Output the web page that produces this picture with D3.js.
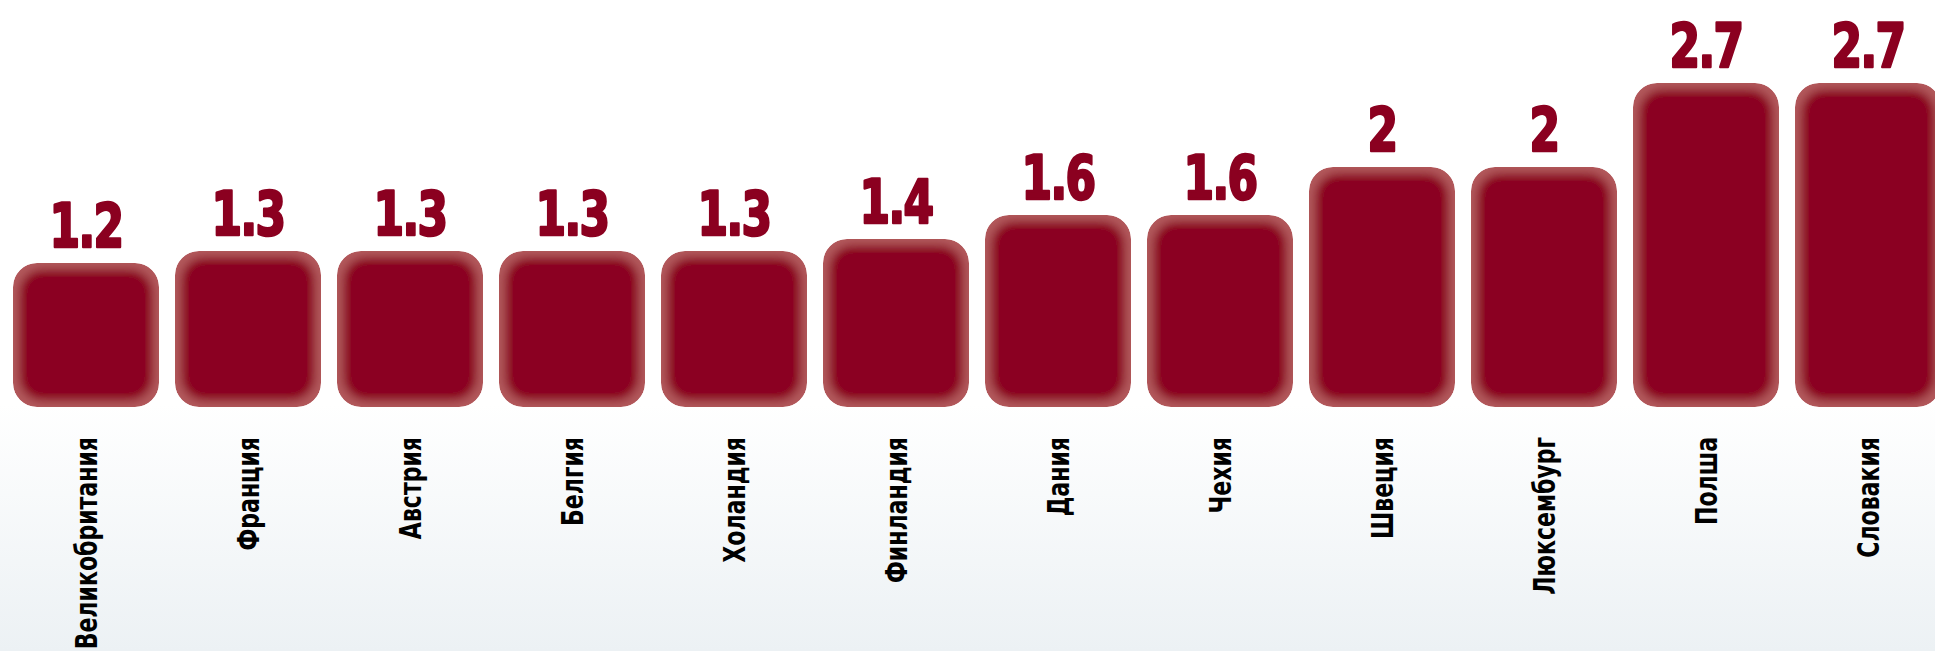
<!DOCTYPE html>
<html>
<head>
<meta charset="utf-8">
<script src="https://cdn.jsdelivr.net/npm/d3@7"></script>
<style>
  body { margin: 0; background: #fff; }
  svg { display: block; }
</style>
</head>
<body>
<svg id="chart"></svg>
<script>
var countries = ["Великобритания", "Франция", "Австрия", "Белгия", "Холандия", "Финландия",
                 "Дания", "Чехия", "Швеция", "Люксембург", "Полша", "Словакия"];
var values = [1.2, 1.3, 1.3, 1.3, 1.3, 1.4, 1.6, 1.6, 2, 2, 2.7, 2.7];
var valueLabels = ["1.2", "1.3", "1.3", "1.3", "1.3", "1.4", "1.6", "1.6", "2", "2", "2.7", "2.7"];

var svgWidth = 1935, svgHeight = 651;
var barBottom = 407, barTopMax = 83; // top of the tallest bar

var svg = d3.select("#chart")
    .attr("width", svgWidth)
    .attr("height", svgHeight);

var defs = svg.append("defs");

// background: white, fading to a pale blue-grey at the bottom
var bg = defs.append("linearGradient")
    .attr("id", "bg")
    .attr("x1", 0).attr("y1", 0).attr("x2", 0).attr("y2", 1);
bg.append("stop").attr("offset", "0.62").attr("stop-color", "#ffffff");
bg.append("stop").attr("offset", "1").attr("stop-color", "#ecf1f4");

svg.append("rect")
    .attr("width", svgWidth)
    .attr("height", svgHeight)
    .attr("fill", "url(#bg)");

// soft inner glow on the bars: lighter rim, dark core
var f = defs.append("filter")
    .attr("id", "glow")
    .attr("x", "-5%").attr("y", "-5%").attr("width", "110%").attr("height", "110%");
f.append("feMorphology").attr("in", "SourceAlpha").attr("operator", "erode").attr("radius", 6).attr("result", "er");
f.append("feGaussianBlur").attr("in", "er").attr("stdDeviation", 5).attr("result", "bl");
f.append("feFlood").attr("flood-color", "#8b0020").attr("result", "fl");
f.append("feComposite").attr("in", "fl").attr("in2", "bl").attr("operator", "in").attr("result", "inner");
var m = f.append("feMerge").attr("result", "merged");
m.append("feMergeNode").attr("in", "SourceGraphic");
m.append("feMergeNode").attr("in", "inner");
f.append("feComposite").attr("in", "merged").attr("in2", "SourceAlpha").attr("operator", "in");

var step = 162, gap = 16;
var xScale = d3.scaleBand()
    .domain(countries)
    .range([13, 13 + step * countries.length - gap])
    .paddingInner(gap / step)
    .paddingOuter(0);

var yScale = d3.scaleLinear()
    .domain([0, d3.max(values)])
    .range([barBottom, barTopMax]);

// bars
svg.selectAll("rect.bar")
    .data(values)
    .enter()
    .append("rect")
    .attr("class", "bar")
    .attr("x", function (d, i) { return xScale(countries[i]); })
    .attr("y", function (d) { return yScale(d); })
    .attr("width", xScale.bandwidth())
    .attr("height", function (d) { return barBottom - yScale(d); })
    .attr("rx", 24)
    .attr("fill", "#b35a5d")
    .attr("filter", "url(#glow)");

// value labels (condensed by squeezing the font horizontally)
svg.selectAll("text.value")
    .data(values)
    .enter()
    .append("text")
    .attr("class", "value")
    .attr("transform", function (d, i) {
        var cx = xScale(countries[i]) + xScale.bandwidth() / 2;
        return "translate(" + cx + "," + (yScale(d) - 16) + ") scale(0.8,1)";
    })
    .attr("text-anchor", "middle")
    .attr("font-family", "'DejaVu Sans Condensed', 'DejaVu Sans', sans-serif")
    .attr("font-weight", "bold")
    .attr("font-size", 61)
    .attr("letter-spacing", -2)
    .attr("fill", "#8b0020")
    .attr("stroke", "#8b0020")
    .attr("stroke-width", 2.5)
    .attr("stroke-linejoin", "round")
    .text(function (d, i) { return valueLabels[i]; });

// category labels, rotated
svg.selectAll("text.cat")
    .data(countries)
    .enter()
    .append("text")
    .attr("class", "cat")
    .attr("transform", function (d) {
        var cx = xScale(d) + xScale.bandwidth() / 2;
        return "translate(" + (cx + 11) + ",437) rotate(-90) scale(0.79,1)";
    })
    .attr("text-anchor", "end")
    .attr("font-family", "'DejaVu Sans Condensed', 'DejaVu Sans', sans-serif")
    .attr("font-weight", "bold")
    .attr("font-size", 31)
    .attr("fill", "#000")
    .text(function (d) { return d; });
</script>
</body>
</html>
